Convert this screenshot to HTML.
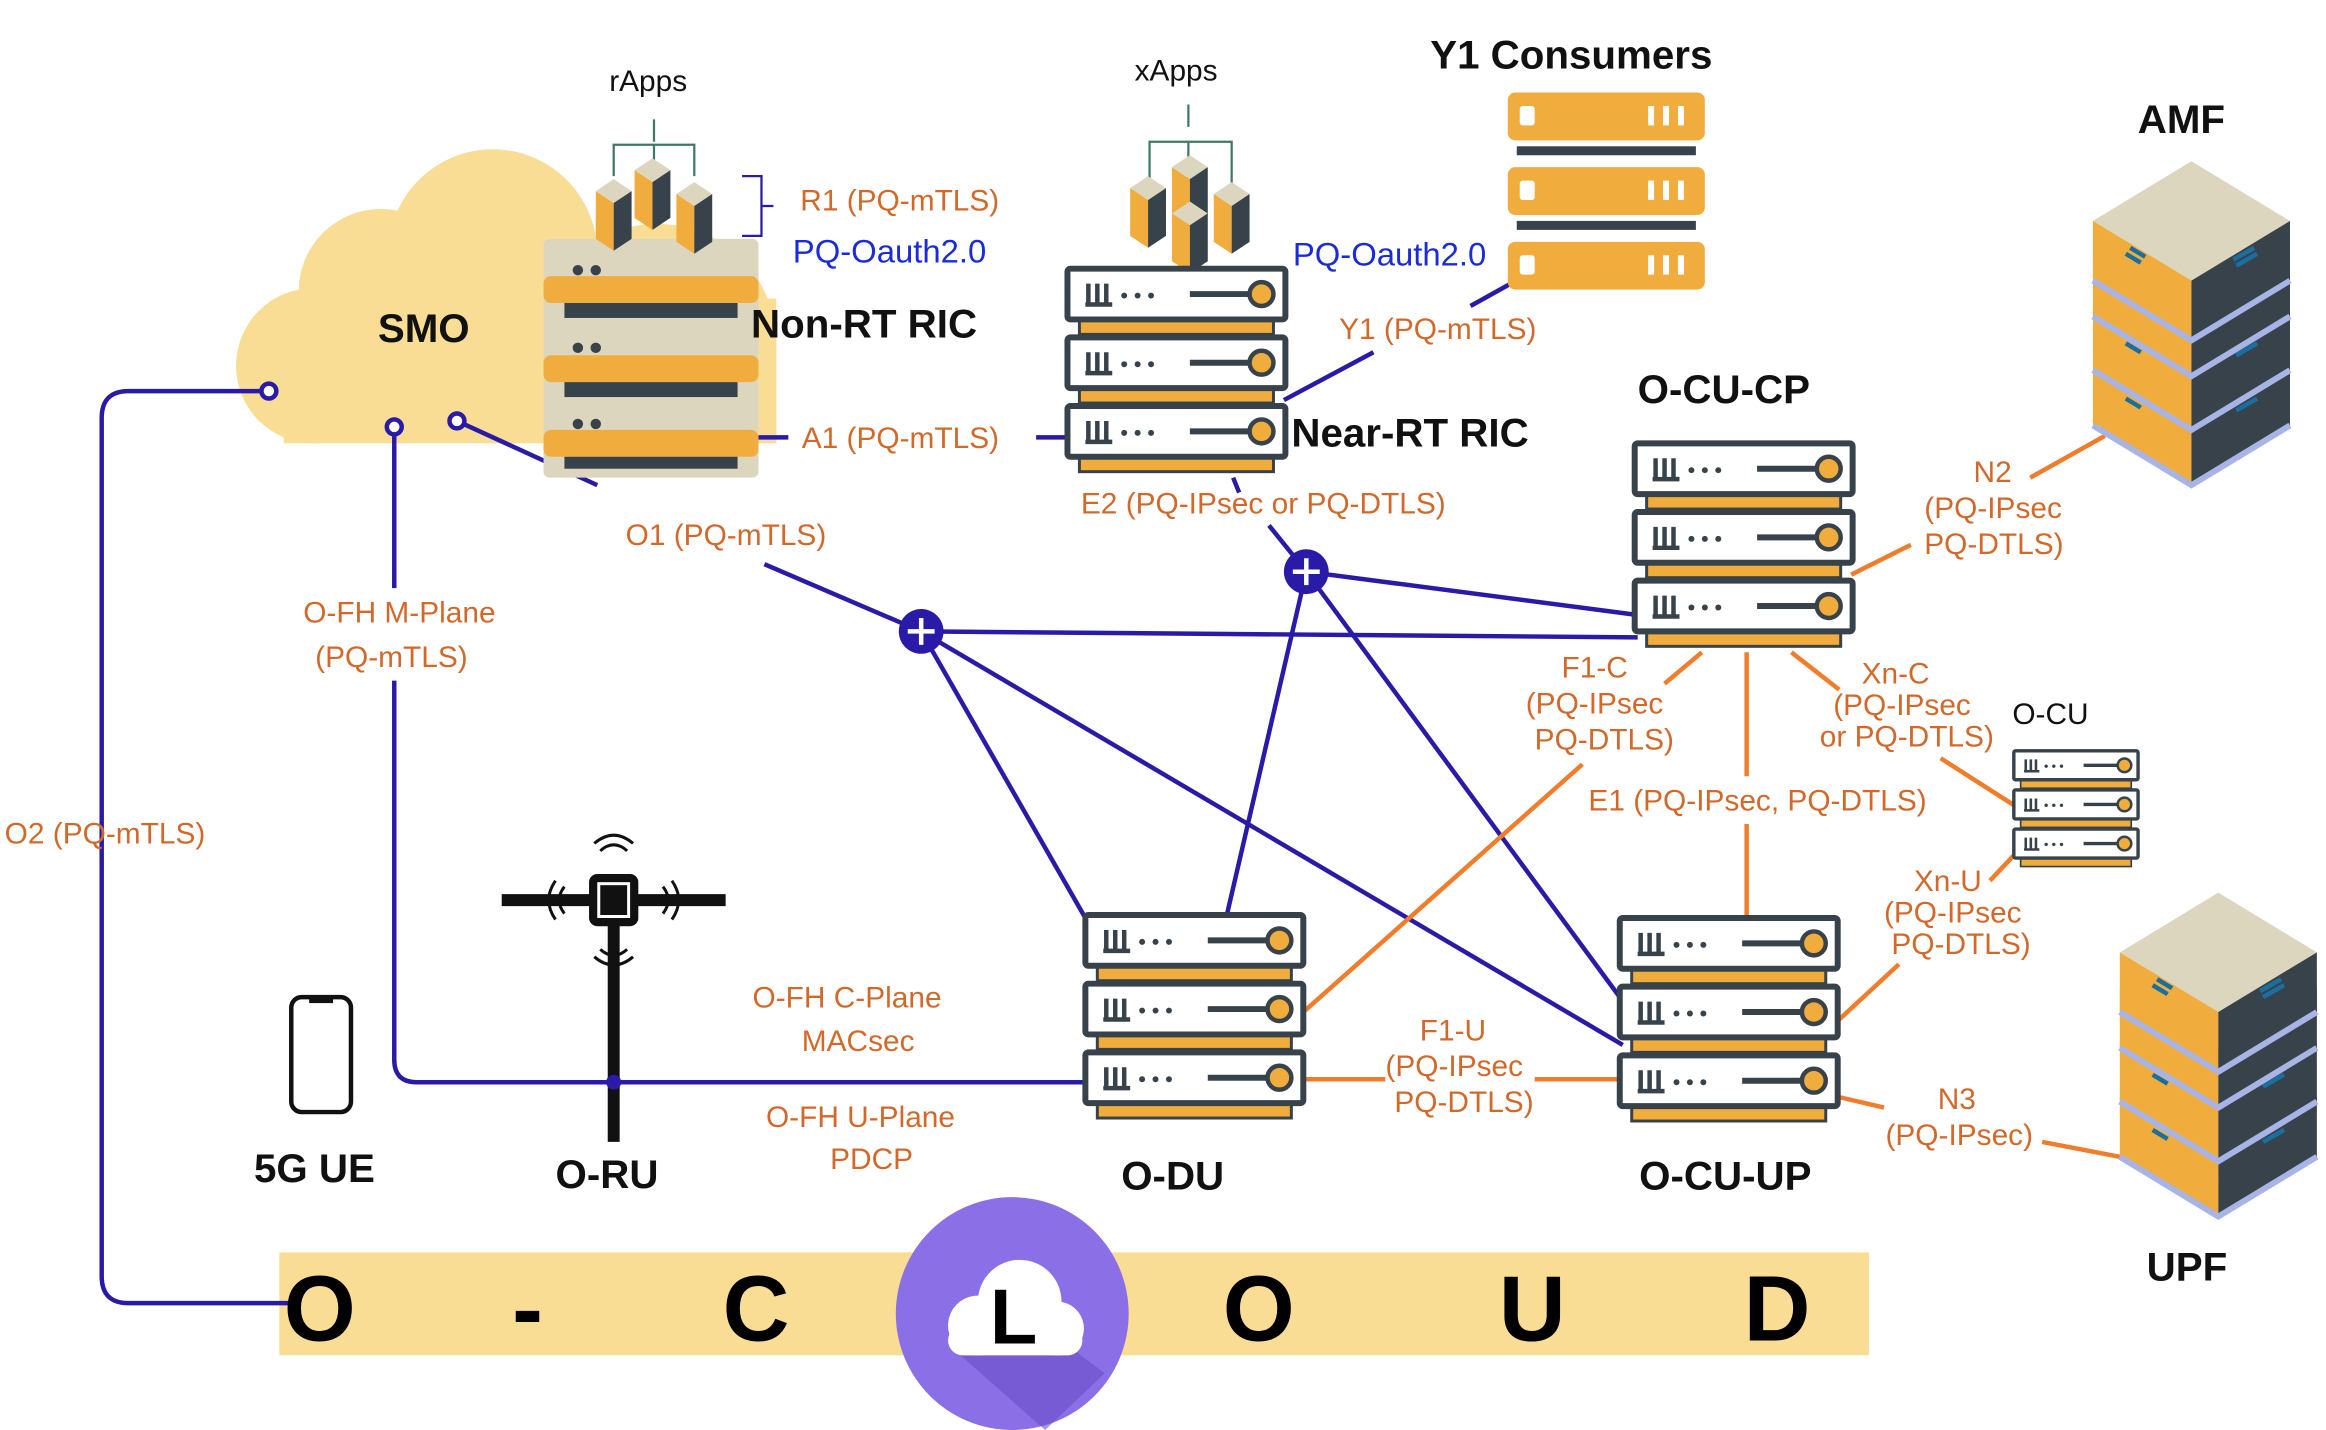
<!DOCTYPE html>
<html><head><meta charset="utf-8"><style>
html,body{margin:0;padding:0;background:#fff;}
svg{display:block;}
.lb{font-family:"Liberation Sans",sans-serif;fill:#d2692a;font-size:20px;}
.bl{font-family:"Liberation Sans",sans-serif;fill:#1a2bd8;font-size:22px;}
.tt{font-family:"Liberation Sans",sans-serif;font-weight:bold;fill:#111;font-size:27px;}
.bk{font-family:"Liberation Sans",sans-serif;fill:#111;font-size:20px;}
</style></head><body>
<svg width="2326" height="1430" viewBox="0 0 1558 958" xmlns="http://www.w3.org/2000/svg">
<defs>
<g id="unit">
<rect x="8" y="34" width="130" height="10" fill="#f0ad3e" stroke="#37424a" stroke-width="2"/>
<rect x="0" y="0" width="146" height="34" rx="2" fill="#fff" stroke="#37424a" stroke-width="4"/>
<path d="M14,10V24M20,10V24M26,10V24M12,24H30" stroke="#37424a" stroke-width="3" fill="none"/>
<circle cx="38" cy="18" r="2" fill="#37424a"/><circle cx="47" cy="18" r="2" fill="#37424a"/><circle cx="56" cy="18" r="2" fill="#37424a"/>
<path d="M82,17H122" stroke="#37424a" stroke-width="4"/>
<circle cx="130" cy="17" r="8" fill="#f0ad3e" stroke="#37424a" stroke-width="3"/>
</g>
<g id="stack3">
<use href="#unit" x="0" y="0"/><use href="#unit" x="0" y="46"/><use href="#unit" x="0" y="92"/>
</g>
<g id="router">
<circle r="15" fill="#2a1aa8"/>
<path d="M-9,0H9M0,-9V9" stroke="#fff" stroke-width="3"/>
</g>
<g id="iso">
<polygon points="0,40 66,0 132,40 66,80" fill="#ddd6bf"/>
<polygon points="0,40 66,80 66,120 0,80" fill="#f0ad3e"/>
<polygon points="66,80 132,40 132,80 66,120" fill="#37424a"/>
<path d="M0,80 L66,120 L132,80" stroke="#a8b4e6" stroke-width="4" fill="none"/>
<path d="M22,62l10,6M25,58l10,6M94,66l14,-8M96,70l14,-8" stroke="#1b6fa0" stroke-width="3"/>
</g>
<g id="tower">
<polygon points="0,8 12,0 24,8 12,16" fill="#ddd6bf"/>
<polygon points="0,8 12,16 12,48 0,40" fill="#f0ad3e"/>
<polygon points="12,16 24,8 24,40 12,48" fill="#37424a"/>
</g>
</defs>

<!-- SMO cloud -->
<g fill="#f9dd94">
<circle cx="330" cy="170" r="70"/>
<circle cx="255" cy="195" r="55"/>
<circle cx="210" cy="245" r="52"/>
<circle cx="440" cy="230" r="80"/>
<rect x="190" y="200" width="330" height="97"/>
</g>
<text class="tt" x="253" y="229">SMO</text>

<!-- O-CLOUD band -->
<rect x="187" y="839" width="1065" height="69" fill="#f9dd94"/>

<!-- Blue lines -->
<g stroke="#2a1aa8" stroke-width="3" fill="none">
<path d="M180,262H86Q68,262 68,280V855Q68,873 86,873H195"/>
<path d="M264,286V394M264,456V710Q264,725 279,725H727"/>
<path d="M306,282L400,325M512,378L617,423"/>
<path d="M508,293H528M694,293H715"/>
<path d="M617,423L1097,427"/>
<path d="M617,423L727,615"/>
<path d="M617,423L1087,700"/>
<path d="M875,383L1097,412"/>
<path d="M875,383L822,612"/>
<path d="M875,383L1085,668"/>
<path d="M875,383L850,352M826,320L830,330"/>
<path d="M860,268L920,236M985,205L1030,180"/>
</g>
<circle cx="180" cy="262" r="5" fill="#fff" stroke="#2a1aa8" stroke-width="3"/>
<circle cx="264" cy="286" r="5" fill="#fff" stroke="#2a1aa8" stroke-width="3"/>
<circle cx="306" cy="282" r="5" fill="#fff" stroke="#2a1aa8" stroke-width="3"/>
<use href="#router" x="617" y="423"/>
<use href="#router" x="875" y="383"/>

<!-- Orange lines -->
<g stroke="#f07d2c" stroke-width="3" fill="none">
<path d="M1140,437L1115,458M1060,512L873,678"/>
<path d="M1170,437V520M1170,552V615"/>
<path d="M1200,437L1232,462M1300,508L1350,540"/>
<path d="M1240,385L1280,365M1360,320L1410,292"/>
<path d="M1232,683L1272,646M1333,590L1350,572"/>
<path d="M873,723H928M1028,723H1085"/>
<path d="M1232,735L1262,742M1368,765L1420,775"/>
</g>

<!-- Non-RT RIC -->
<g>
<rect x="364" y="160" width="144" height="160" rx="4" fill="#ddd6bf"/>
<rect x="364" y="185" width="144" height="18" rx="5" fill="#f0ad3e"/>
<rect x="378" y="203" width="116" height="10" fill="#37424a"/>
<rect x="364" y="238" width="144" height="18" rx="5" fill="#f0ad3e"/>
<rect x="378" y="256" width="116" height="10" fill="#37424a"/>
<rect x="364" y="288" width="144" height="18" rx="5" fill="#f0ad3e"/>
<rect x="378" y="306" width="116" height="8" fill="#37424a"/>
<circle cx="387" cy="181" r="3.5" fill="#37424a"/><circle cx="399" cy="181" r="3.5" fill="#37424a"/>
<circle cx="387" cy="233" r="3.5" fill="#37424a"/><circle cx="399" cy="233" r="3.5" fill="#37424a"/>
<circle cx="387" cy="284" r="3.5" fill="#37424a"/><circle cx="399" cy="284" r="3.5" fill="#37424a"/>
</g>
<!-- rApps -->
<path d="M438,80V95M411,118V97H465V118M438,97V110" stroke="#3d7a64" stroke-width="1.5" fill="none"/>
<use href="#tower" x="399" y="120"/><use href="#tower" x="425" y="106"/><use href="#tower" x="453" y="122"/>
<text class="bk" x="408" y="61">rApps</text>
<path d="M497,118H510V158H497M510,138H518" stroke="#2a1aa8" stroke-width="1.5" fill="none"/>
<text class="lb" x="536" y="141">R1 (PQ-mTLS)</text>
<text class="bl" x="531" y="176">PQ-Oauth2.0</text>
<text class="tt" x="503" y="226">Non-RT RIC</text>
<text class="lb" x="537" y="300">A1 (PQ-mTLS)</text>
<text class="lb" x="419" y="365">O1 (PQ-mTLS)</text>

<!-- xApps / Near-RT RIC -->
<path d="M796,70V85M770,130V95H825V128M796,95V122" stroke="#3d7a64" stroke-width="1.5" fill="none"/>
<use href="#tower" x="757" y="118"/><use href="#tower" x="785" y="104"/><use href="#tower" x="813" y="122"/><use href="#tower" x="785" y="135"/>
<text class="bk" x="760" y="54">xApps</text>
<use href="#stack3" x="715" y="180"/>
<text class="tt" x="865" y="299">Near-RT RIC</text>
<text class="lb" x="724" y="344">E2 (PQ-IPsec or PQ-DTLS)</text>
<text class="bl" x="866" y="178">PQ-Oauth2.0</text>
<text class="lb" x="897" y="227">Y1 (PQ-mTLS)</text>

<!-- Y1 consumers -->
<text class="tt" x="958" y="46">Y1 Consumers</text>
<g>
<rect x="1010" y="62" width="132" height="32" rx="5" fill="#f0ad3e"/>
<rect x="1016" y="98" width="120" height="6" fill="#37424a"/>
<rect x="1010" y="112" width="132" height="32" rx="5" fill="#f0ad3e"/>
<rect x="1016" y="148" width="120" height="6" fill="#37424a"/>
<rect x="1010" y="162" width="132" height="32" rx="5" fill="#f0ad3e"/>
<g fill="#fff">
<rect x="1018" y="71" width="10" height="13" rx="2"/><rect x="1104" y="71" width="4" height="13"/><rect x="1114" y="71" width="4" height="13"/><rect x="1124" y="71" width="4" height="13"/>
<rect x="1018" y="121" width="10" height="13" rx="2"/><rect x="1104" y="121" width="4" height="13"/><rect x="1114" y="121" width="4" height="13"/><rect x="1124" y="121" width="4" height="13"/>
<rect x="1018" y="171" width="10" height="13" rx="2"/><rect x="1104" y="171" width="4" height="13"/><rect x="1114" y="171" width="4" height="13"/><rect x="1124" y="171" width="4" height="13"/>
</g>
</g>

<!-- O-CU-CP -->
<text class="tt" x="1097" y="270">O-CU-CP</text>
<use href="#stack3" x="1095" y="297"/>
<text class="lb" x="1046" y="454">F1-C</text>
<text class="lb" x="1022" y="478">(PQ-IPsec</text>
<text class="lb" x="1028" y="502">PQ-DTLS)</text>
<text class="lb" x="1064" y="543">E1 (PQ-IPsec, PQ-DTLS)</text>
<text class="lb" x="1247" y="458" font-size="17">Xn-C</text>
<text class="lb" x="1228" y="479" font-size="17">(PQ-IPsec</text>
<text class="lb" x="1219" y="500" font-size="17">or PQ-DTLS)</text>

<!-- AMF -->
<text class="tt" x="1432" y="89">AMF</text>
<use href="#iso" x="1402" y="205"/>
<use href="#iso" x="1402" y="168"/>
<use href="#iso" x="1402" y="132"/>
<use href="#iso" x="1402" y="108"/>
<text class="lb" x="1322" y="323">N2</text>
<text class="lb" x="1289" y="347">(PQ-IPsec</text>
<text class="lb" x="1289" y="371">PQ-DTLS)</text>

<!-- O-CU small -->
<text class="bk" x="1348" y="485">O-CU</text>
<g transform="translate(1349,503) scale(0.57)"><use href="#stack3"/></g>
<text class="lb" x="1282" y="597" font-size="17">Xn-U</text>
<text class="lb" x="1262" y="618" font-size="17">(PQ-IPsec</text>
<text class="lb" x="1267" y="639" font-size="17">PQ-DTLS)</text>

<!-- UPF -->
<use href="#iso" x="1420" y="695"/>
<use href="#iso" x="1420" y="658"/>
<use href="#iso" x="1420" y="622"/>
<use href="#iso" x="1420" y="598"/>
<text class="tt" x="1438" y="858">UPF</text>
<text class="lb" x="1298" y="743">N3</text>
<text class="lb" x="1263" y="767">(PQ-IPsec)</text>

<!-- O-DU / O-CU-UP -->
<use href="#stack3" x="727" y="613"/>
<text class="tt" x="751" y="797">O-DU</text>
<use href="#stack3" x="1085" y="615"/>
<text class="tt" x="1098" y="797">O-CU-UP</text>
<text class="lb" x="951" y="697">F1-U</text>
<text class="lb" x="928" y="721">(PQ-IPsec</text>
<text class="lb" x="934" y="745">PQ-DTLS)</text>

<!-- O-FH labels -->
<text class="lb" x="203" y="417">O-FH M-Plane</text>
<text class="lb" x="211" y="447">(PQ-mTLS)</text>
<text class="lb" x="3" y="565">O2 (PQ-mTLS)</text>
<text class="lb" x="504" y="675">O-FH C-Plane</text>
<text class="lb" x="537" y="704">MACsec</text>
<text class="lb" x="513" y="755">O-FH U-Plane</text>
<text class="lb" x="556" y="783">PDCP</text>

<!-- O-RU -->
<g stroke="#111" fill="none">
<path d="M336,603H486" stroke-width="8"/>
<path d="M411,603V765" stroke-width="8"/>
<rect x="395" y="586" width="32" height="34" rx="5" fill="#111"/>
<rect x="401" y="592" width="20" height="22" fill="#111" stroke="#fff" stroke-width="2"/>
<path d="M402,570Q411,562 420,570M398,565Q411,554 424,565M402,636Q411,644 420,636M398,641Q411,652 424,641M378,594Q371,603 378,612M372,590Q363,603 372,616M444,594Q451,603 444,612M450,590Q459,603 450,616" stroke-width="2"/>
</g>
<circle cx="411" cy="725" r="5" fill="#2a1aa8"/>
<text class="tt" x="372" y="796">O-RU</text>

<!-- 5G UE -->
<rect x="195" y="668" width="40" height="77" rx="7" fill="#fff" stroke="#111" stroke-width="3"/>
<rect x="207" y="668" width="16" height="4" fill="#111"/>
<text class="tt" x="170" y="792">5G UE</text>

<!-- O-CLOUD letters -->
<g font-family="Liberation Sans,sans-serif" font-weight="bold" font-size="62" fill="#000">
<text x="190" y="898">O</text>
<text x="343" y="898">-</text>
<text x="484" y="898">C</text>
<text x="819" y="898">O</text>
<text x="1004" y="898">U</text>
<text x="1168" y="898">D</text>
</g>
<circle cx="678" cy="880" r="78" fill="#8b6fe6"/>
<path d="M640,905 L700,958 L740,920 L700,890Z" fill="#6a4fc8" opacity="0.6"/>
<g fill="#fff">
<circle cx="655" cy="888" r="20"/><circle cx="683" cy="872" r="28"/><circle cx="708" cy="890" r="18"/>
<rect x="635" y="888" width="90" height="20" rx="10"/>
</g>
<text x="663" y="900" font-family="Liberation Sans,sans-serif" font-weight="bold" font-size="52" fill="#000">L</text>
</svg>
</body></html>
